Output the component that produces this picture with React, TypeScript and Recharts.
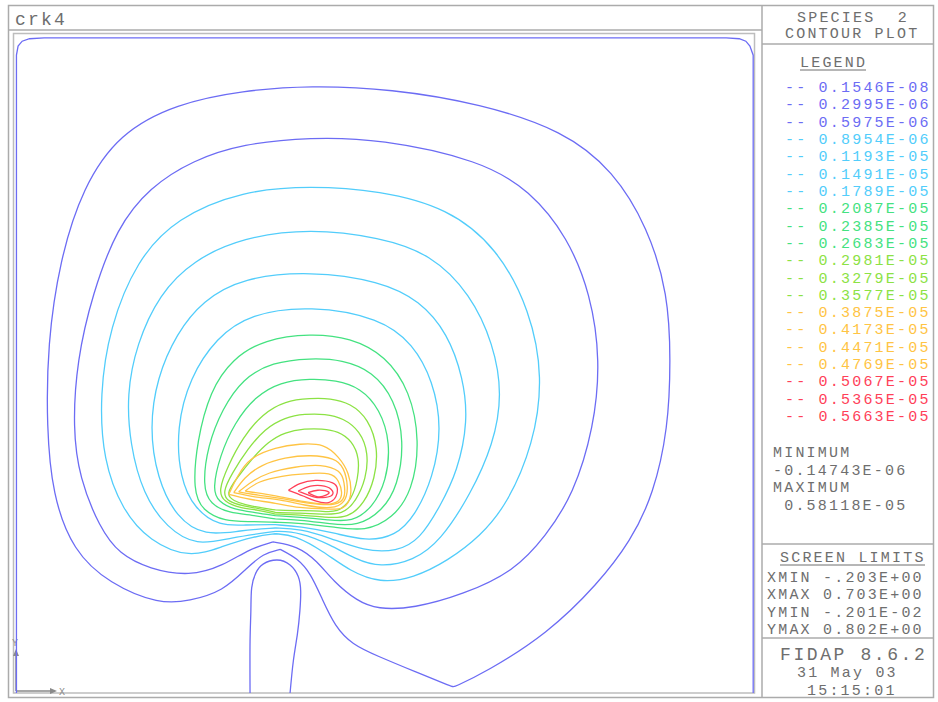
import { LineChart, Line, XAxis, YAxis } from "recharts";

type Pt = [number, number];

// contour levels of species 2 and the colour of each level
const levels = [
  "0.1546E-08", "0.2995E-06", "0.5975E-06", "0.8954E-06", "0.1193E-05",
  "0.1491E-05", "0.1789E-05", "0.2087E-05", "0.2385E-05", "0.2683E-05",
  "0.2981E-05", "0.3279E-05", "0.3577E-05", "0.3875E-05", "0.4173E-05",
  "0.4471E-05", "0.4769E-05", "0.5067E-05", "0.5365E-05", "0.5663E-05",
];
const levelColors = [
  "#6c6cf4", "#6c6cf4", "#6c6cf4",
  "#52cdfb", "#52cdfb", "#52cdfb", "#52cdfb",
  "#44e280", "#44e280", "#44e280",
  "#8ce244", "#8ce244", "#8ce244",
  "#ffc444", "#ffc444", "#ffc444", "#ffc444",
  "#ff4058", "#ff4058", "#ff4058",
];

// screen limits (m) and extremes
const screenLimits = { xmin: -0.203, xmax: 0.703, ymin: -0.00201, ymax: 0.802 };
const minimum = "-0.14743E-06";
const maximum = "0.58118E-05";

// contour polylines, x / y in mm
const wallContour: Pt[] = [
  [-200, -2], [-200, 775], [-198, 786], [-193, 792], [-184, 795], [-166, 796],
  [669, 796], [685, 795], [693, 792], [698, 786], [702, 775], [702, -2],
];
const inletContour: Pt[] = [
  [86, -2], [86, 61], [87, 98], [88, 126], [93, 144], [102, 155], [119, 160],
  [135, 154], [145, 140], [148, 122], [147, 98], [144, 70], [139, 37], [135, -2],
];
const c2995: Pt[] = [
  [123, 173], [144, 162], [160, 144], [174, 113], [190, 79], [211, 57], [242, 43],
  [288, 24], [335, 5], [335, 5], [374, 23], [450, 70], [512, 131], [552, 183], [580, 240],
  [598, 321], [601, 403], [598, 484], [573, 565], [531, 634], [470, 683], [368, 716],
  [258, 734], [160, 738], [77, 732], [-4, 716], [-74, 680], [-119, 614], [-147, 525],
  [-162, 423], [-163, 321], [-156, 240], [-131, 171], [-86, 131], [-25, 106],
  [12, 110], [53, 122], [82, 150], [102, 168], [123, 173],
];
const c5975: Pt[] = [
  [114, 182], [144, 177], [168, 159], [188, 134], [217, 110], [242, 100], [286, 101],
  [347, 118], [409, 146], [448, 189], [482, 240], [507, 321], [515, 403], [503, 484],
  [475, 553], [429, 610], [368, 647], [245, 673], [160, 675], [77, 667], [16, 647],
  [-37, 614], [-77, 565], [-107, 484], [-126, 403], [-131, 321], [-123, 260],
  [-98, 199], [-74, 167], [-37, 149], [12, 140], [53, 153], [86, 174], [114, 182],
];
const c8954: Pt[] = [
  [117, 192], [141, 190], [175, 171], [209, 146], [245, 132], [286, 138], [328, 159],
  [368, 189], [401, 228], [433, 301], [445, 382], [429, 464], [389, 540], [328, 589],
  [245, 610], [160, 616], [77, 610], [-4, 577], [-53, 525], [-86, 443], [-98, 362],
  [-94, 281], [-70, 220], [-37, 183], [12, 162], [53, 177], [92, 189], [117, 192],
];
const c1193: Pt[] = [
  [117, 195], [147, 194], [184, 179], [215, 161], [245, 151], [286, 159], [319, 183],
  [356, 240], [384, 301], [395, 362], [384, 423], [356, 484], [307, 533], [245, 553],
  [160, 564], [77, 553], [16, 525], [-25, 484], [-53, 423], [-65, 362], [-61, 301],
  [-45, 240], [-16, 199], [21, 177], [61, 187], [117, 195],
];
const c1491: Pt[] = [
  [117, 199], [147, 198], [184, 187], [225, 171], [266, 170], [294, 185], [319, 226],
  [340, 268], [353, 329], [347, 382], [328, 436], [294, 476], [245, 500], [160, 512],
  [77, 504], [28, 476], [-4, 436], [-28, 382], [-37, 321], [-28, 260], [-4, 211],
  [31, 189], [74, 196], [117, 199],
];
const c1789: Pt[] = [
  [117, 203], [147, 201], [190, 193], [227, 183], [264, 189], [288, 214], [310, 260],
  [321, 321], [310, 378], [286, 423], [245, 455], [160, 470], [86, 460], [45, 431],
  [12, 382], [-4, 321], [0, 260], [18, 222], [49, 201], [80, 203], [117, 203],
];
const c2087: Pt[] = [
  [117, 206], [147, 205], [190, 200], [227, 195], [260, 210], [285, 244], [294, 305],
  [282, 366], [252, 409], [209, 431], [160, 436], [104, 429], [64, 405], [37, 366],
  [21, 305], [16, 244], [28, 220], [55, 207], [86, 207], [117, 206],
];
const c2385: Pt[] = [
  [117, 210], [147, 209], [184, 204], [218, 201], [248, 220], [267, 250], [275, 305],
  [263, 356], [236, 390], [199, 404], [160, 406], [113, 401], [77, 381], [52, 344],
  [34, 299], [28, 250], [37, 228], [61, 217], [88, 215], [117, 210],
];
const c2683: Pt[] = [
  [117, 214], [147, 212], [182, 209], [211, 206], [236, 224], [253, 256], [258, 303],
  [245, 344], [221, 370], [191, 379], [160, 381], [123, 377], [92, 359], [67, 327],
  [49, 287], [40, 246], [47, 231], [67, 221], [92, 218], [117, 214],
];
const c2981: Pt[] = [
  [117, 216], [147, 215], [178, 212], [206, 211], [226, 229], [239, 259], [243, 296],
  [231, 332], [209, 351], [184, 357], [160, 357], [129, 354], [101, 338], [77, 309],
  [59, 275], [47, 244], [54, 231], [74, 223], [96, 221], [117, 216],
];
const c3279: Pt[] = [
  [117, 218], [147, 217], [174, 216], [199, 215], [216, 232], [228, 259], [231, 290],
  [221, 317], [200, 333], [178, 338], [153, 338], [129, 334], [104, 320], [83, 295],
  [64, 266], [52, 242], [59, 231], [77, 226], [96, 223], [117, 218],
];
const c3577: Pt[] = [
  [117, 221], [147, 220], [172, 220], [193, 217], [211, 234], [218, 259], [220, 284],
  [211, 305], [194, 317], [174, 320], [153, 320], [129, 316], [108, 304], [88, 283],
  [70, 260], [56, 240], [66, 232], [80, 227], [98, 224], [117, 221],
];
const c3875: Pt[] = [
  [60, 240], [71, 262], [88, 283], [117, 296], [147, 301], [175, 299], [194, 285],
  [206, 265], [209, 239], [200, 224], [182, 222], [147, 224], [117, 229], [86, 234],
  [60, 240],
];
const c4173: Pt[] = [
  [66, 242], [80, 260], [101, 275], [129, 284], [160, 287], [187, 283], [200, 271],
  [205, 250], [201, 232], [184, 224], [153, 227], [123, 233], [92, 237], [66, 242],
];
const c4471: Pt[] = [
  [72, 243], [88, 255], [110, 266], [141, 273], [172, 275], [194, 268], [201, 254],
  [201, 237], [189, 228], [160, 229], [123, 235], [96, 239], [72, 243],
];
const c4769: Pt[] = [
  [80, 244], [98, 255], [125, 262], [153, 265], [182, 265], [194, 256], [198, 243],
  [194, 232], [178, 228], [153, 231], [123, 237], [80, 244],
];
const c5067: Pt[] = [
  [133, 245], [147, 253], [166, 257], [187, 254], [193, 246], [191, 237], [182, 230],
  [166, 232], [151, 238], [133, 245],
];
const c5365: Pt[] = [
  [145, 244], [160, 250], [177, 250], [187, 244], [185, 238], [175, 236], [164, 237],
  [145, 244],
];
const c5663: Pt[] = [
  [157, 242], [169, 245], [182, 243], [179, 239], [169, 237], [157, 242],
];

const contours: { level: number; pts: Pt[]; curve: "linear" | "basis" | "natural" }[] = [
  { level: 0, pts: wallContour, curve: "linear" },
  { level: 0, pts: inletContour, curve: "natural" },
  { level: 1, pts: c2995, curve: "basis" },
  { level: 2, pts: c5975, curve: "basis" },
  { level: 3, pts: c8954, curve: "basis" },
  { level: 4, pts: c1193, curve: "basis" },
  { level: 5, pts: c1491, curve: "basis" },
  { level: 6, pts: c1789, curve: "basis" },
  { level: 7, pts: c2087, curve: "basis" },
  { level: 8, pts: c2385, curve: "basis" },
  { level: 9, pts: c2683, curve: "basis" },
  { level: 10, pts: c2981, curve: "basis" },
  { level: 11, pts: c3279, curve: "basis" },
  { level: 12, pts: c3577, curve: "basis" },
  { level: 13, pts: c3875, curve: "natural" },
  { level: 14, pts: c4173, curve: "natural" },
  { level: 15, pts: c4471, curve: "natural" },
  { level: 16, pts: c4769, curve: "natural" },
  { level: 17, pts: c5067, curve: "natural" },
  { level: 18, pts: c5365, curve: "natural" },
  { level: 19, pts: c5663, curve: "natural" },
];

const fmtLimit = (v: number) => {
  const [m, e] = v.toExponential(2).split("e");
  const exp = Number(e) + 1;
  const mant = (Number(m) / 10).toFixed(3).replace(/^(-?)0\./, v < 0 ? "-." : "0.");
  return `${mant}E${exp < 0 ? "-" : "+"}${String(Math.abs(exp)).padStart(2, "0")}`;
};

const FONT = "'Liberation Mono', 'DejaVu Sans Mono', monospace";
const GRAY = "#6e6e6e";
const FRAME = "#ababab";

function Label({ x, y, children, fill = GRAY, size = 15, spacing = 2.2 }: any) {
  return (
    <text
      x={x}
      y={y}
      fill={fill}
      fontFamily={FONT}
      fontSize={size}
      style={{ letterSpacing: spacing, whiteSpace: "pre" }}
    >
      {children}
    </text>
  );
}

function Frame() {
  const rowY = (i: number) => 92 + i * 17.32;
  return (
    <svg width={938} height={702} style={{ position: "absolute", left: 0, top: 0 }}>
      <rect x={8.5} y={5.5} width={925} height={692} fill="none" stroke={FRAME} strokeWidth={1.5} />
      <line x1={762} y1={5} x2={762} y2={698} stroke={FRAME} strokeWidth={1.5} />
      <line x1={8} y1={30} x2={762} y2={30} stroke={FRAME} strokeWidth={1.5} />
      <rect x={13.5} y={33.5} width={741} height={659.5} fill="none" stroke="#bdbdbd" strokeWidth={1.5} />
      <line x1={762} y1={44} x2={934} y2={44} stroke={FRAME} strokeWidth={1.5} />
      <line x1={762} y1={544} x2={934} y2={544} stroke={FRAME} strokeWidth={1.5} />
      <line x1={762} y1={638} x2={934} y2={638} stroke={FRAME} strokeWidth={1.5} />

      <Label x={15} y={25} size={18} spacing={2.2}>crk4</Label>

      <Label x={797} y={22}>{"SPECIES  2"}</Label>
      <Label x={785} y={38}>CONTOUR PLOT</Label>
      <Label x={800} y={67}>LEGEND</Label>
      <line x1={800} y1={70} x2={866} y2={70} stroke={GRAY} strokeWidth={1} />
      {levels.map((v, i) => (
        <Label key={v} x={785} y={rowY(i)} fill={levelColors[i]}>{`-- ${v}`}</Label>
      ))}

      <Label x={773} y={457}>MINIMUM</Label>
      <Label x={773} y={475}>{minimum}</Label>
      <Label x={773} y={492}>MAXIMUM</Label>
      <Label x={773} y={510}>{` ${maximum}`}</Label>

      <Label x={780} y={562}>SCREEN LIMITS</Label>
      <line x1={780} y1={565} x2={925} y2={565} stroke={GRAY} strokeWidth={1} />
      <Label x={767} y={582}>{`XMIN ${fmtLimit(screenLimits.xmin)}`}</Label>
      <Label x={767} y={599}>{`XMAX ${fmtLimit(screenLimits.xmax)}`}</Label>
      <Label x={767} y={617}>{`YMIN ${fmtLimit(screenLimits.ymin)}`}</Label>
      <Label x={767} y={634}>{`YMAX ${fmtLimit(screenLimits.ymax)}`}</Label>

      <Label x={780} y={660} size={18} spacing={2.6}>FIDAP 8.6.2</Label>
      <Label x={797} y={677}>31 May 03</Label>
      <Label x={807} y={695}>15:15:01</Label>

      {/* axis triad */}
      <line x1={16} y1={691} x2={16} y2={654} stroke="#8a8a8a" strokeWidth={1.5} />
      <path d="M13,656 L16,649 L19,656 Z" fill="#8a8a8a" />
      <Label x={12} y={646} size={10} spacing={0} fill="#8a8a8a">Y</Label>
      <line x1={16} y1={691} x2={52} y2={691} stroke="#8a8a8a" strokeWidth={1.5} />
      <path d="M50,688 L57,691 L50,694 Z" fill="#8a8a8a" />
      <Label x={59} y={695} size={10} spacing={0} fill="#8a8a8a">X</Label>
    </svg>
  );
}

export default function App() {
  const xDomain = [screenLimits.xmin * 1000, screenLimits.xmax * 1000];
  const yDomain = [screenLimits.ymin * 1000, screenLimits.ymax * 1000];
  return (
    <div style={{ position: "absolute", left: 0, top: 0, width: 938, height: 702, background: "#fff" }}>
      <Frame />
      <div style={{ position: "absolute", left: 14, top: 33 }}>
        <LineChart width={740} height={660} margin={{ top: 0, right: 0, bottom: 0, left: 0 }}>
          <XAxis type="number" dataKey="x" domain={xDomain} allowDataOverflow hide />
          <YAxis type="number" dataKey="y" domain={yDomain} allowDataOverflow hide />
          {contours.map((c, i) => (
            <Line
              key={i}
              data={c.pts.map(([x, y]) => ({ x, y }))}
              dataKey="y"
              type={c.curve}
              stroke={levelColors[c.level]}
              strokeWidth={1.3}
              dot={false}
              activeDot={false}
              isAnimationActive={false}
            />
          ))}
        </LineChart>
      </div>
    </div>
  );
}
